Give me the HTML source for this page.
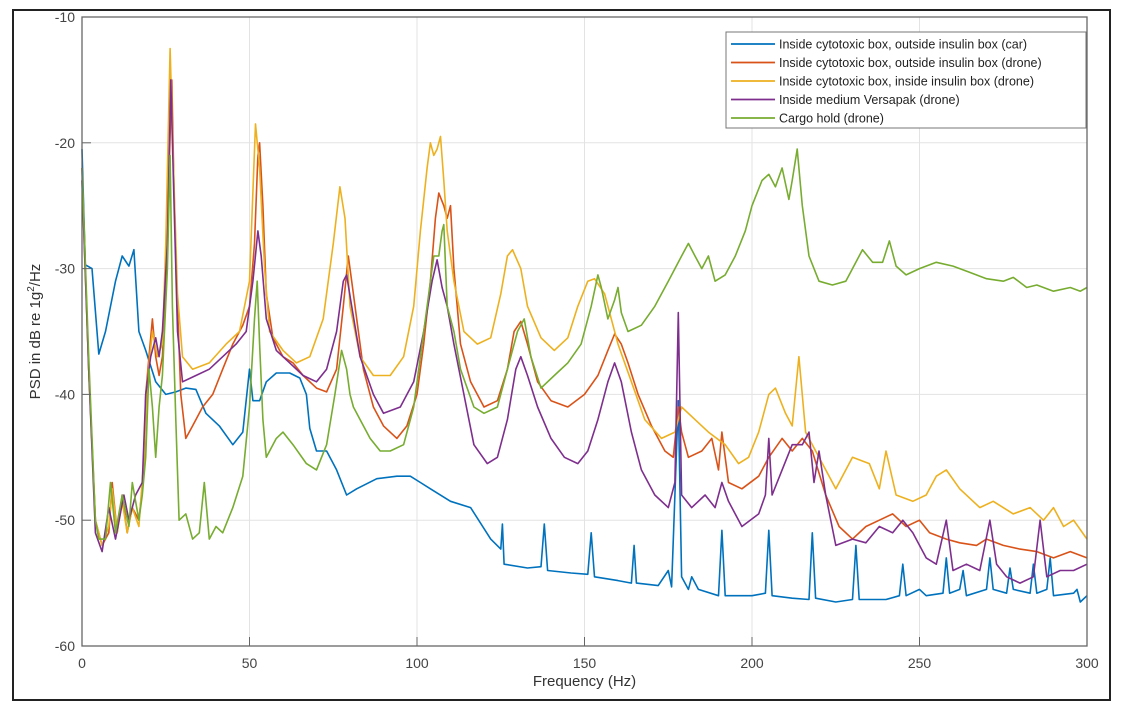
<!DOCTYPE html>
<html><head><meta charset="utf-8"><style>
html,body{margin:0;padding:0;background:#fff;}
svg{display:block;font-family:"Liberation Sans",Arial,sans-serif;}
</style></head><body>
<svg id="chart" width="1123" height="714">
<rect x="13" y="10" width="1097" height="690" fill="#fff" stroke="#222" stroke-width="2"/>
<g id="grid"></g>
<g id="series"></g>
<g id="axes"></g>
<g id="legend"></g>
</svg>
<script>
const xTicks=[0,50,100,150,200,250,300];
const yTicks=[-60,-50,-40,-30,-20,-10];
const seriesNames=["Inside cytotoxic box, outside insulin box (car)","Inside cytotoxic box, outside insulin box (drone)","Inside cytotoxic box, inside insulin box (drone)","Inside medium Versapak (drone)","Cargo hold (drone)"];
const seriesColors=["#0072bd","#d95319","#edb120","#7e2f8e","#77ac30"];
const blue=[[0,-20.5],[1,-29.7],[3,-30],[5,-36.8],[7,-35],[10,-31],[12,-29],[14,-29.8],[15.5,-28.5],[17,-35],[19,-36.5],[22,-39],[25,-40],[28,-39.8],[31,-39.5],[34,-39.6],[37,-41.5],[41,-42.5],[45,-44],[48,-43],[50,-38],[51,-40.5],[53,-40.5],[55,-39],[58,-38.3],[62,-38.3],[65,-38.7],[67,-40],[68,-42.7],[70,-44.5],[73,-44.5],[76,-46],[79,-48],[82,-47.5],[88,-46.7],[94,-46.5],[98,-46.5],[101,-47],[104,-47.5],[110,-48.5],[116,-49],[122,-51.5],[125,-52.3],[125.5,-50.3],[126,-53.5],[133,-53.8],[137,-53.7],[138,-50.3],[139,-54],[146,-54.2],[151,-54.3],[152,-51],[153,-54.5],[160,-54.8],[164,-55],[164.8,-52],[165.5,-55],[172,-55.2],[175,-54],[176,-55.3],[178,-40.5],[179,-54.5],[181,-55.5],[182,-54.5],[184,-55.5],[190,-56],[191,-50.8],[192,-56],[200,-56],[204,-55.8],[205,-50.8],[206,-56],[212,-56.2],[217,-56.3],[218,-51],[219,-56.2],[225,-56.5],[230,-56.3],[231,-52],[232,-56.3],[240,-56.3],[244,-56],[245,-53.5],[246,-56],[250,-55.5],[252,-56],[257,-55.8],[258,-53],[259,-55.8],[262,-55.5],[263,-54],[264,-56],[270,-55.5],[271,-53],[272,-55.5],[276,-55.8],[277,-53.8],[278,-55.5],[283,-55.8],[284,-53.5],[285,-55.8],[288,-55.5],[289,-53],[290,-56],[296,-55.8],[297,-55.5],[298,-56.5],[300,-56]];
const orange=[[0,-22],[2,-38],[4,-50],[6,-52],[8,-51],[9,-47],[10.5,-51],[12,-48],[13.5,-51],[15,-49],[17,-50],[18.5,-46],[19,-40],[20,-37],[21,-34],[22,-37],[23,-38.5],[24,-37],[25,-32],[26,-22],[26.8,-15],[27.5,-24],[28.5,-33],[29.5,-40],[31,-43.5],[33,-42.5],[36,-41],[39,-40],[42,-38],[45,-36],[48,-34.5],[50,-33],[51.5,-28],[52.5,-21],[53,-20],[54,-25],[55,-32],[57,-35.5],[60,-37],[63,-37.5],[66,-38.5],[70,-39.5],[73,-39.8],[76,-38],[78,-33],[79.5,-29],[80.5,-31],[82,-34],[84,-38],[87,-41],[90,-42.5],[94,-43.5],[97,-42.5],[100,-40],[102,-36],[104,-31],[105.5,-26],[106.5,-24],[108,-25],[109,-26],[110,-25],[111,-30],[113,-36],[116,-39],[120,-41],[124,-40.5],[127,-38],[129,-35],[131,-34.2],[133,-36],[136,-39],[140,-40.5],[145,-41],[150,-40],[154,-38.5],[157,-36.5],[159,-35.2],[161,-36],[163,-37.5],[166,-40],[170,-42.5],[174,-44.5],[176.5,-45],[178,-41],[179,-43],[181,-45],[185,-44.5],[188,-43.5],[190,-46],[191,-43],[193,-47],[197,-47.5],[202,-46.5],[205,-45],[209,-43.5],[212,-44.5],[215,-43.5],[218,-44.5],[222,-48],[226,-50.5],[230,-51.5],[234,-50.5],[238,-50],[242,-49.5],[246,-50.5],[250,-50],[253,-51],[258,-51.5],[262,-51.8],[267,-52],[270,-51.5],[275,-52],[280,-52.3],[285,-52.5],[290,-53],[295,-52.5],[300,-53]];
const yellow=[[0,-23],[2,-38],[4,-50],[6,-52],[8,-50.5],[9,-47.5],[10.5,-51],[12,-48.5],[13.5,-51],[15,-49],[17,-50.5],[18.5,-45],[19.5,-39],[21,-35],[22.5,-37],[24,-36],[25,-28],[26.3,-12.5],[27.3,-22],[28.5,-32],[30,-37],[33,-38],[38,-37.5],[43,-36],[47,-35],[50,-31],[51.8,-18.5],[53,-22],[54.5,-30],[56,-35],[60,-36.5],[64,-37.5],[68,-37],[72,-34],[75,-28],[77,-23.5],[78.5,-26],[80,-33],[83,-37],[87,-38.5],[92,-38.5],[96,-37],[99,-33],[101,-27],[103,-22],[104,-20],[105,-21],[106,-20.5],[107,-19.5],[108,-23],[109,-27],[111,-31],[114,-35],[118,-36],[122,-35.5],[125,-32],[127,-29],[128.5,-28.5],[131,-30],[133,-33],[137,-35.5],[141,-36.5],[145,-35.5],[148,-33],[151,-31],[153,-30.8],[156,-32],[160,-36],[164,-39],[168,-42],[173,-43.5],[177,-43],[179,-41],[183,-42],[187,-43],[192,-44],[196,-45.5],[199,-45],[202,-43],[205,-40],[207,-39.5],[210,-41.5],[212,-42.5],[214,-37],[216,-43],[220,-45],[225,-47.5],[230,-45],[235,-45.5],[238,-47.5],[240,-44.5],[243,-48],[248,-48.5],[252,-48],[255,-46.5],[258,-46],[262,-47.5],[268,-49],[272,-48.5],[278,-49.5],[283,-49],[287,-50],[290,-49],[293,-50.5],[296,-50],[300,-51.5]];
const purple=[[0,-23],[2,-38],[4,-51],[6,-52.5],[8,-49],[10,-51.5],[12.5,-48],[14,-50],[16,-48],[18,-47],[19,-40],[20.5,-37],[22,-35.5],[23,-37],[24,-35],[25.5,-28],[26.5,-15],[27.5,-25],[28.5,-35],[30,-39],[34,-38.5],[38,-38],[42,-37],[46,-36],[49,-35],[51,-31],[52.5,-27],[53.5,-29],[55,-34],[58,-36.5],[62,-37.5],[66,-38.5],[70,-39],[73,-38],[76,-35],[78,-31],[79,-30.5],[80.5,-33],[83,-37],[87,-40],[90,-41.5],[95,-41],[99,-39],[102,-35],[104.5,-31],[106,-29.3],[107.5,-31.5],[109,-33],[111,-36],[114,-40],[117,-44],[121,-45.5],[124,-45],[127,-42],[129.5,-38],[131,-37],[133,-38.5],[136,-41],[140,-43.5],[144,-45],[148,-45.5],[151,-44.5],[154,-42],[157,-39],[159,-37.5],[161,-39],[164,-43],[167,-46],[171,-48],[175,-49],[177,-47],[178,-33.5],[179,-48],[182,-49],[186,-48],[189,-49],[191,-47],[193,-48.5],[197,-50.5],[202,-49.5],[204,-48],[205,-43.5],[206,-48],[209,-46],[212,-44],[215,-44],[217,-43],[218.5,-47],[220,-44.5],[222,-48],[225,-52],[230,-51.5],[234,-51.8],[238,-50.5],[242,-51],[245,-50],[248,-51],[252,-53],[255,-53.5],[258,-50],[260,-54],[264,-53.5],[268,-54],[271,-50],[273,-53.5],[276,-54.5],[280,-55],[284,-54.5],[286,-50],[288,-54.5],[292,-54],[296,-54],[300,-53.5]];
const green=[[0,-22],[2,-37],[4,-50],[5,-51.5],[7,-51.5],[8.5,-47],[10,-51],[12,-48],[14,-50.5],[15,-47],[17,-50],[18,-48],[19,-45],[20,-38],[21,-41],[22,-45],[23,-41],[24,-38.5],[25.5,-30],[26.3,-21],[27,-33],[28,-42],[29,-50],[31,-49.5],[33,-51.5],[35,-51],[36.5,-47],[38,-51.5],[40,-50.5],[42,-51],[45,-49],[48,-46.5],[50,-41],[51.5,-34],[52.3,-31],[53,-36],[54,-42],[55,-45],[58,-43.5],[60,-43],[63,-44],[67,-45.5],[70,-46],[73,-44],[75.5,-40],[77.5,-36.5],[79,-38],[80,-40],[81,-41],[83,-42],[86,-43.5],[89,-44.5],[92,-44.5],[96,-44],[99,-41],[101,-37],[103,-33],[105,-29],[106.5,-29],[107.5,-27],[108,-26.5],[109,-33],[111,-35],[113,-38],[117,-41],[120,-41.5],[124,-41],[127,-38],[130,-35],[132,-34],[134,-37],[137,-39.5],[141,-38.5],[145,-37.5],[149,-36],[152,-33],[154,-30.5],[155,-31.5],[157,-34],[159,-32.5],[160,-31.5],[161,-33.5],[163,-35],[167,-34.5],[171,-33],[175,-31],[179,-29],[181,-28],[183,-29],[185,-30],[187,-29],[189,-31],[192,-30.5],[195,-29],[198,-27],[200,-25],[203,-23],[205,-22.5],[207,-23.5],[209,-22],[211,-24.5],[212,-23],[213.5,-20.5],[215,-25],[217,-29],[220,-31],[224,-31.3],[228,-31],[230,-30],[233,-28.5],[236,-29.5],[239,-29.5],[241,-27.8],[243,-29.8],[246,-30.5],[250,-30],[255,-29.5],[260,-29.8],[265,-30.3],[270,-30.8],[275,-31],[278,-30.7],[282,-31.5],[285,-31.3],[290,-31.8],[295,-31.5],[298,-31.8],[300,-31.5]];
const allSeries=[blue,orange,yellow,purple,green];

const X0=82,X1=1087,Y0=646,Y1=17;
const xs=f=>X0+(f-0)/(300-0)*(X1-X0);
const ys=v=>Y0-(v-(-60))/(-10-(-60))*(Y0-Y1);
const NS="http://www.w3.org/2000/svg";
function mk(tag,attrs,parent){const e=document.createElementNS(NS,tag);for(const k in attrs)e.setAttribute(k,attrs[k]);parent.appendChild(e);return e;}
const grid=document.getElementById('grid'),axes=document.getElementById('axes'),ser=document.getElementById('series'),leg=document.getElementById('legend');
xTicks.forEach(t=>{
  const l=mk('line',{x1:xs(t),x2:xs(t),y1:Y1,y2:Y0,stroke:'#e3e3e3','stroke-width':1},grid);
  
  
  const tk=mk('line',{x1:xs(t),x2:xs(t),y1:Y0,y2:Y0-9,stroke:'#666','stroke-width':1},axes);
  
  
  const tx=mk('text',{x:xs(t),y:Y0+22,'text-anchor':'middle','font-size':14,fill:'#444'},axes);
  tx.textContent=t;
  
  
});
yTicks.forEach(t=>{
  const l=mk('line',{x1:X0,x2:X1,y1:ys(t),y2:ys(t),stroke:'#e3e3e3','stroke-width':1},grid);
  
  
  const tk=mk('line',{x1:X0,x2:X0+9,y1:ys(t),y2:ys(t),stroke:'#666','stroke-width':1},axes);
  
  
  const tx=mk('text',{x:X0-7,y:ys(t)+5,'text-anchor':'end','font-size':14,fill:'#444'},axes);
  tx.textContent=t;
  
  
});
const box=mk('rect',{x:X0,y:Y1,width:X1-X0,height:Y0-Y1,fill:'none',stroke:'#666','stroke-width':1.3},axes);


const xt=mk('text',{x:(X0+X1)/2,y:Y0+40,'text-anchor':'middle','font-size':15,fill:'#333'},axes);
xt.textContent='Frequency (Hz)';


const yt=mk('text',{x:0,y:0,'text-anchor':'middle','font-size':15,fill:'#333',transform:`translate(40,${(Y0+Y1)/2}) rotate(-90)`},axes);
yt.innerHTML='PSD in dB re 1g<tspan dy="-6" font-size="10">2</tspan><tspan dy="6">/Hz</tspan>';


allSeries.forEach((s,i)=>{
  const p=mk('polyline',{points:s.map(d=>xs(d[0]).toFixed(1)+','+ys(d[1]).toFixed(1)).join(' '),fill:'none',stroke:seriesColors[i],'stroke-width':1.6,'stroke-linejoin':'round'},ser);
  
  
});
const lb=mk('rect',{x:726,y:32,width:360,height:96,fill:'#fff',stroke:'#777','stroke-width':1},leg);


seriesNames.forEach((n,i)=>{
  const y=44+i*18.5;
  const g=mk('g',{},leg);
  
  
  mk('line',{x1:731,x2:775,y1:y,y2:y,stroke:seriesColors[i],'stroke-width':1.8},g);
  const t=mk('text',{x:779,y:y+4.5,'font-size':12.5,fill:'#222'},g);
  t.textContent=n;
});
</script>
</body></html>
